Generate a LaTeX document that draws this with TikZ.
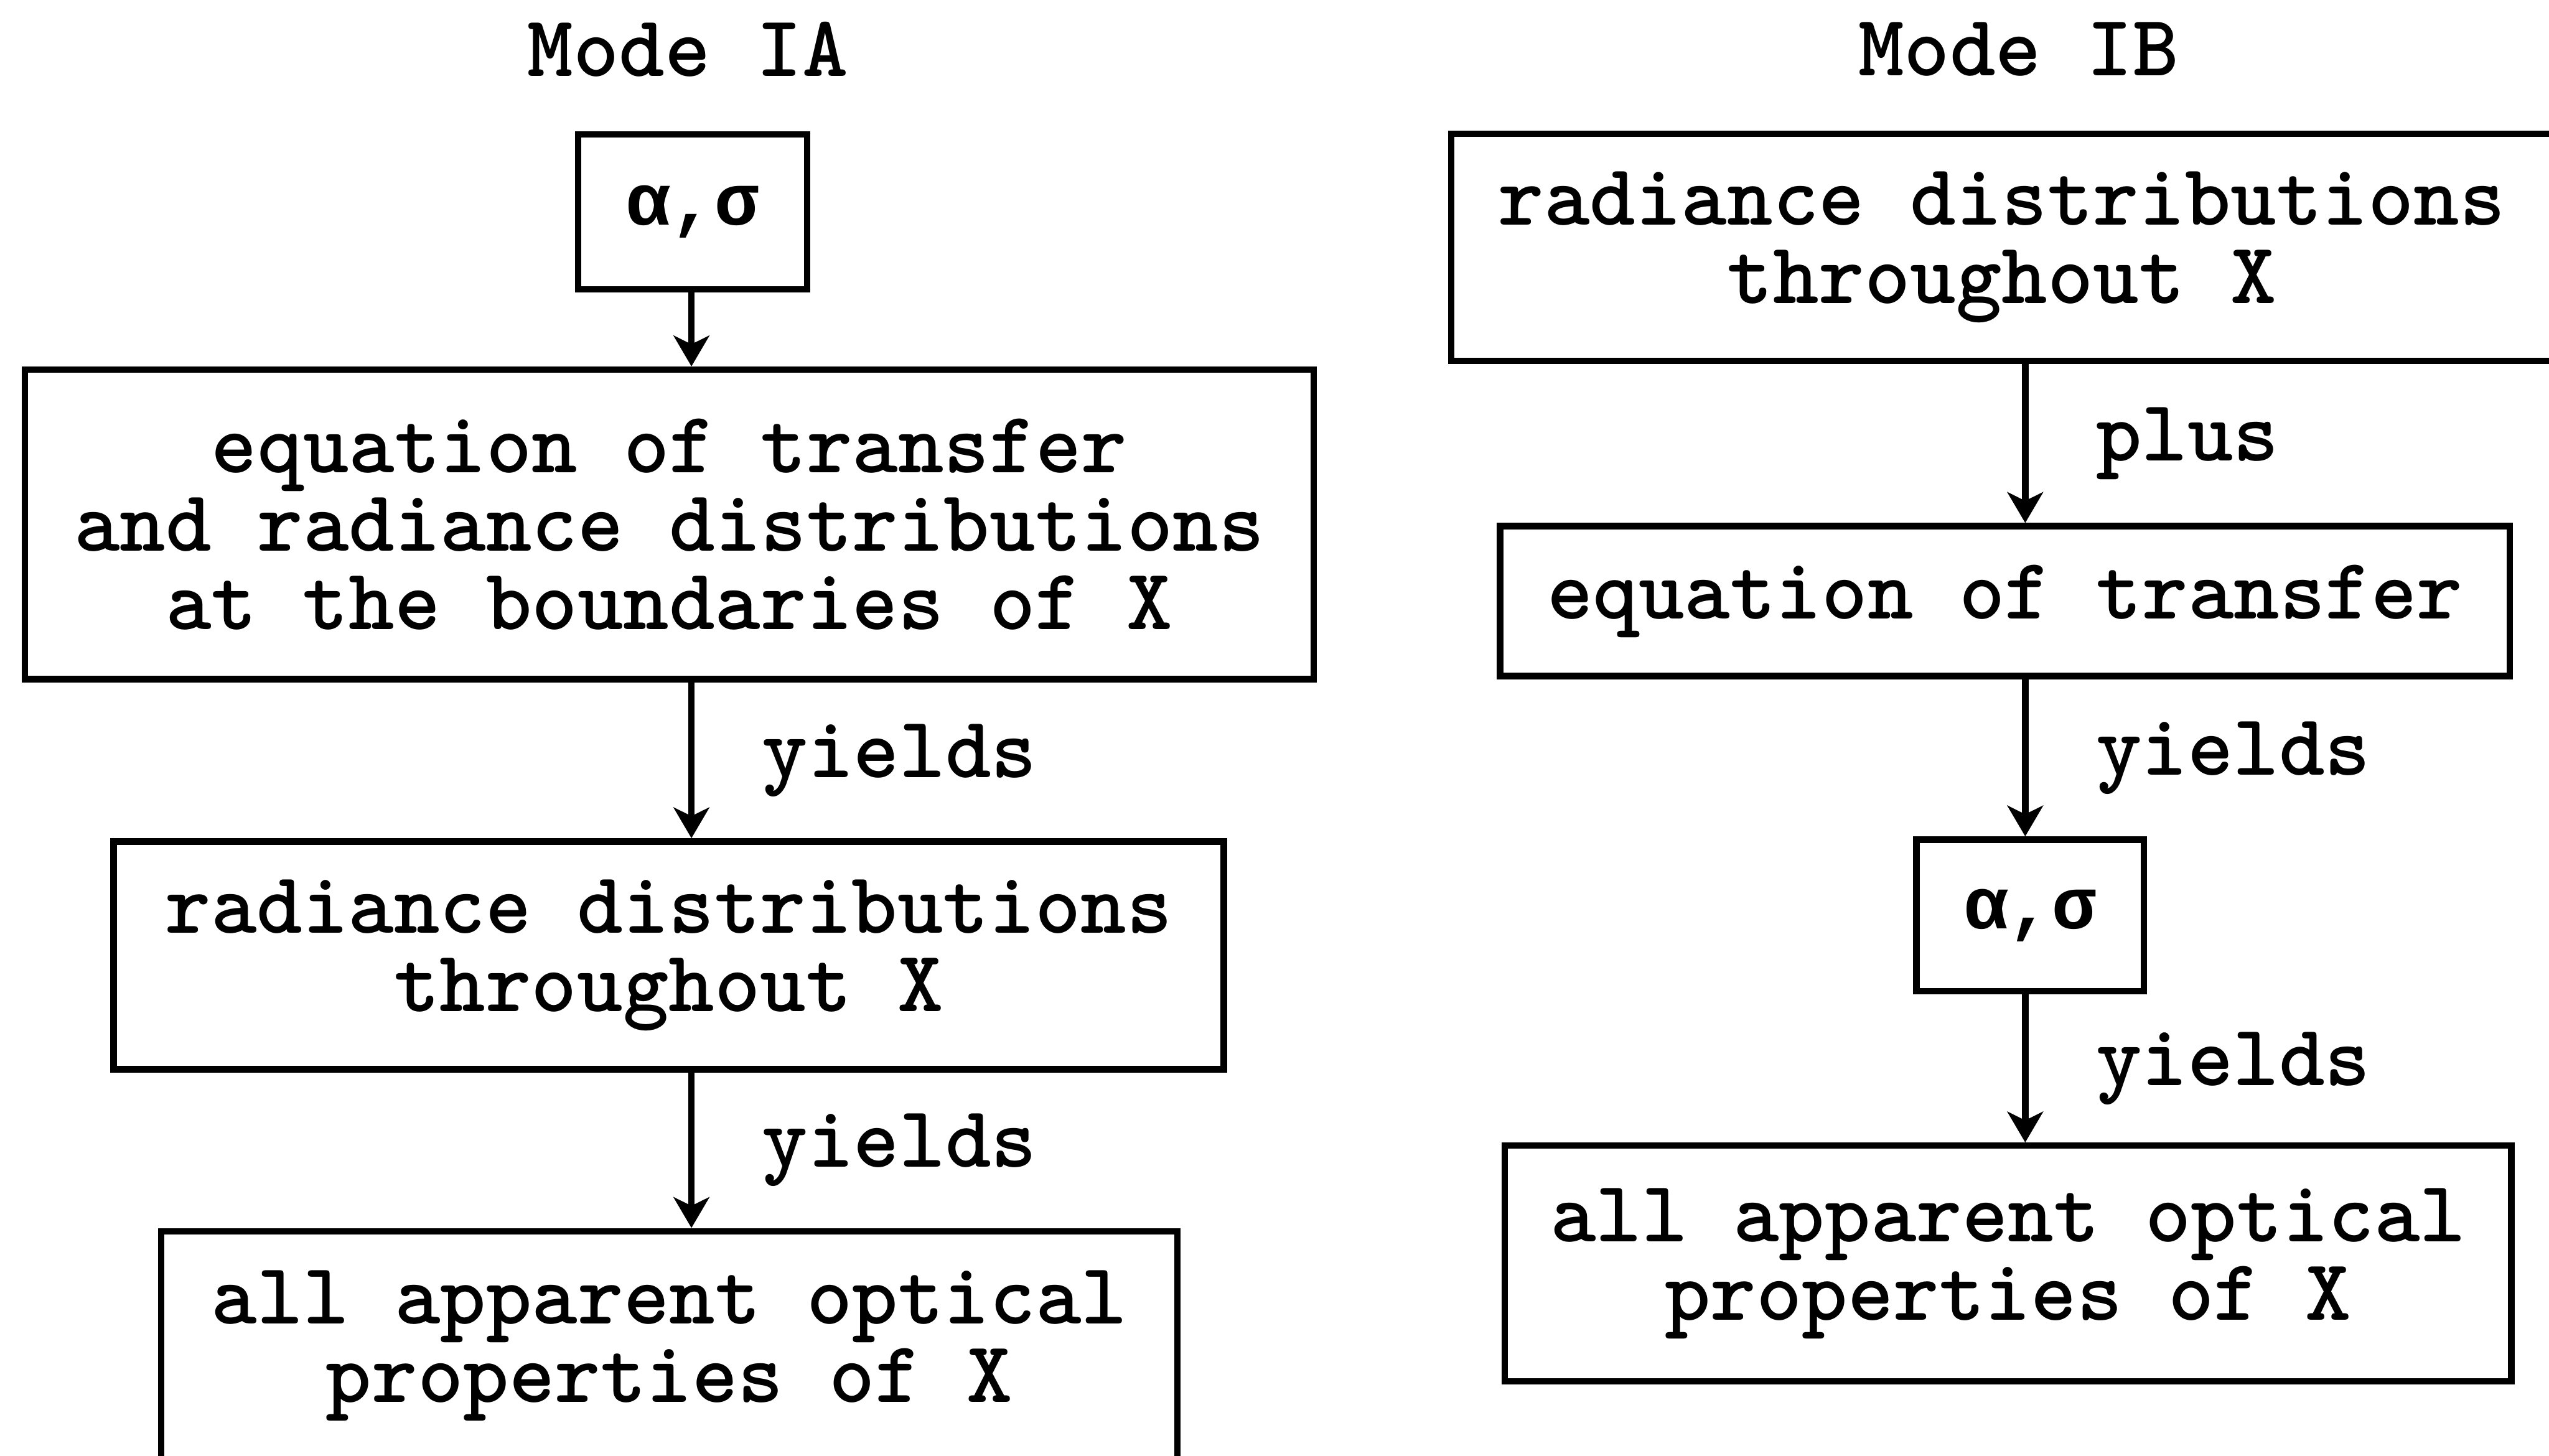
\documentclass[tikz,border=0pt]{standalone}
\usepackage{fontspec}
\newfontfamily\greekmono{Liberation Mono}
\usetikzlibrary{positioning,arrows.meta}

\begin{document}
\begin{tikzpicture}[
        stage/.style={
            draw,
            line width=3pt,
            align=center,
            inner sep=0pt,
            font=\ttfamily\bfseries\fontsize{40.4}{36.4}\selectfont
        },
        steplabel/.style={
            font=\ttfamily\bfseries\fontsize{40.4}{36.4}\selectfont,
            align=center,
            inner sep=0pt
        },
        greek/.style={
            stage,
            font=\greekmono\bfseries\fontsize{34}{36.4}\selectfont
        },
        flow/.style={
            line width=3pt,
            -{Stealth[length=0.5cm,width=0.58cm,inset=0.14cm]}
        }
    ]
        \useasboundingbox (0,0) rectangle (41.51,-23.71);
        \clip (0,0) rectangle (41.51,-23.71);

        % Mode IA
        \coordinate (spineA) at (11.26,0);
        \node[steplabel] (modeA) at (11.20,-0.80) {Mode IA};
        \node[greek, minimum width=3.73cm, minimum height=2.52cm] (a1) at (11.28,-3.45) {α,σ};
        \node[stage, minimum width=20.99cm, minimum height=5.04cm] (a2) at (10.90,-8.54) {equation of transfer\\and radiance distributions\\at the boundaries of X};
        \node[stage, minimum width=18.08cm, minimum height=3.71cm] (a3) at (10.89,-15.56) {radiance distributions\\throughout X};
        \node[stage, minimum width=16.55cm, minimum height=4.20cm, anchor=north] (a4) at (10.90,-20.00) {};
        \node[steplabel] (a4text) at (10.90,-21.92) {all apparent optical\\properties of X};

        \draw[flow] (a1.south -| spineA) -- (a2.north -| spineA);
        \draw[flow] (a2.south -| spineA) -- node[steplabel, right=1.1cm] {yields} (a3.north -| spineA);
        \draw[flow] (a3.south -| spineA) -- node[steplabel, right=1.1cm] {yields} (a4.north -| spineA);

        % Mode IB
        \coordinate (spineB) at (32.98,0);
        \node[steplabel] (modeB) at (32.87,-0.80) {Mode IB};
        \node[stage, minimum width=17.94cm, minimum height=3.70cm] (b1) at (32.60,-4.03) {radiance distributions\\throughout X};
        \node[stage, minimum width=16.44cm, minimum height=2.44cm] (b2) at (32.65,-9.79) {equation of transfer};
        \node[greek, minimum width=3.70cm, minimum height=2.47cm] (b3) at (33.06,-14.91) {α,σ};
        \node[stage, minimum width=16.39cm, minimum height=3.84cm] (b4) at (32.70,-20.58) {all apparent optical\\properties of X};

        \draw[flow] (b1.south -| spineB) -- node[steplabel, right=1.1cm] {plus} (b2.north -| spineB);
        \draw[flow] (b2.south -| spineB) -- node[steplabel, right=1.1cm] {yields} (b3.north -| spineB);
        \draw[flow] (b3.south -| spineB) -- node[steplabel, right=1.1cm] {yields} (b4.north -| spineB);
    \end{tikzpicture}
\end{document}
